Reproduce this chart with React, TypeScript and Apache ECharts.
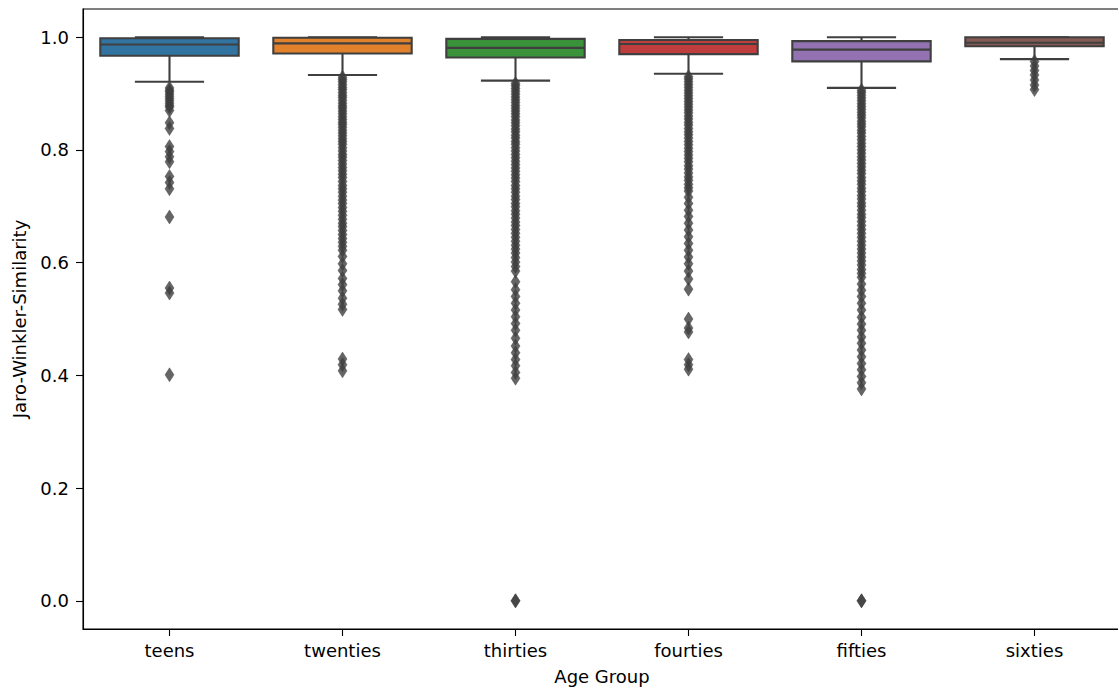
import React, { useEffect, useRef } from "react";
import * as echarts from "echarts";

// Age groups on the category axis
const categories = ["teens", "twenties", "thirties", "fourties", "fifties", "sixties"];

// Box statistics per age group
const whiskerLow = [0.921, 0.933, 0.923, 0.935, 0.910, 0.961];
const q1 = [0.967, 0.971, 0.964, 0.970, 0.957, 0.984];
const median = [0.987, 0.989, 0.981, 0.988, 0.978, 0.990];
const q3 = [0.998, 0.999, 0.997, 0.995, 0.993, 1.0];
const whiskerHigh = [1.0, 1.0, 1.0, 1.0, 1.0, 1.0];

// Fill colours of the boxes
const boxColors = ["#3274a1", "#e1812c", "#3a923a", "#c03d3e", "#9372b2", "#845b53"];

// Outlying similarity scores per age group
const teensOutliers = [
  0.910, 0.906, 0.903, 0.899, 0.895, 0.891, 0.887, 0.883, 0.879, 0.876,
  0.870, 0.848, 0.838, 0.806, 0.797, 0.788, 0.779, 0.753, 0.742, 0.731,
  0.681, 0.555, 0.546, 0.401,
];
const twentiesOutliers = [
  0.929, 0.925, 0.921, 0.916, 0.911, 0.907, 0.902, 0.897, 0.893, 0.888,
  0.883, 0.878, 0.874, 0.869, 0.864, 0.859, 0.854, 0.849, 0.845, 0.840,
  0.835, 0.830, 0.825, 0.820, 0.815, 0.810, 0.804, 0.798, 0.792, 0.787,
  0.781, 0.775, 0.769, 0.763, 0.757, 0.751, 0.744, 0.737, 0.731, 0.725,
  0.718, 0.711, 0.705, 0.698, 0.691, 0.684, 0.677, 0.670, 0.664, 0.657,
  0.650, 0.643, 0.636, 0.629, 0.622, 0.611, 0.598, 0.586, 0.572, 0.561,
  0.550, 0.537, 0.526, 0.517, 0.429, 0.419, 0.408,
];
const thirtiesOutliers = [
  0.918, 0.914, 0.909, 0.904, 0.899, 0.894, 0.889, 0.884, 0.879, 0.874,
  0.869, 0.864, 0.859, 0.853, 0.848, 0.843, 0.837, 0.832, 0.826, 0.821,
  0.815, 0.810, 0.804, 0.798, 0.792, 0.786, 0.780, 0.774, 0.768, 0.762,
  0.756, 0.750, 0.744, 0.737, 0.731, 0.725, 0.718, 0.712, 0.705, 0.699,
  0.692, 0.686, 0.679, 0.672, 0.666, 0.659, 0.652, 0.645, 0.638, 0.631,
  0.624, 0.617, 0.609, 0.601, 0.593, 0.585, 0.566, 0.552, 0.540, 0.528,
  0.516, 0.504, 0.492, 0.480, 0.466, 0.452, 0.440, 0.428, 0.417, 0.405,
  0.395, 0.0, 0.0,
];
const fourtiesOutliers = [
  0.930, 0.926, 0.921, 0.916, 0.911, 0.906, 0.901, 0.896, 0.891, 0.886,
  0.881, 0.876, 0.871, 0.866, 0.860, 0.855, 0.849, 0.844, 0.838, 0.832,
  0.827, 0.821, 0.815, 0.809, 0.803, 0.797, 0.791, 0.785, 0.779, 0.772,
  0.766, 0.759, 0.752, 0.746, 0.739, 0.733, 0.727, 0.716, 0.705, 0.693,
  0.682, 0.670, 0.658, 0.646, 0.634, 0.622, 0.610, 0.598, 0.585, 0.571,
  0.553, 0.500, 0.484, 0.477, 0.428, 0.419, 0.411,
];
const fiftiesOutliers = [
  0.906, 0.902, 0.897, 0.892, 0.887, 0.882, 0.877, 0.872, 0.867, 0.862,
  0.857, 0.851, 0.846, 0.841, 0.835, 0.830, 0.824, 0.818, 0.812, 0.806,
  0.800, 0.794, 0.788, 0.782, 0.776, 0.770, 0.764, 0.758, 0.751, 0.745,
  0.739, 0.732, 0.726, 0.719, 0.713, 0.706, 0.700, 0.693, 0.686, 0.680,
  0.673, 0.666, 0.659, 0.652, 0.645, 0.638, 0.631, 0.624, 0.617, 0.610,
  0.603, 0.596, 0.588, 0.581, 0.574, 0.562, 0.551, 0.540, 0.528, 0.516,
  0.503, 0.491, 0.480, 0.468, 0.457, 0.445, 0.433, 0.421, 0.410, 0.398,
  0.387, 0.376, 0.0, 0.0,
];
const sixtiesOutliers = [0.957, 0.949, 0.941, 0.933, 0.924, 0.915, 0.907];

// Y-axis tick positions
const yTicks = [0.0, 0.2, 0.4, 0.6, 0.8, 1.0];

const outlierGroups = [
  teensOutliers,
  twentiesOutliers,
  thirtiesOutliers,
  fourtiesOutliers,
  fiftiesOutliers,
  sixtiesOutliers,
];

const EDGE = "#3f3f3f";
const FONT = "DejaVu Sans";

export default function App() {
  const ref = useRef<HTMLDivElement>(null);

  useEffect(() => {
    if (!ref.current) return;
    const chart = echarts.init(ref.current, null, { renderer: "svg" });

    const boxData = categories.map((_, i) => [
      i,
      whiskerLow[i],
      q1[i],
      median[i],
      q3[i],
      whiskerHigh[i],
    ]);

    const flierData: number[][] = [];
    outlierGroups.forEach((group, i) => {
      group.forEach((v) => flierData.push([i, v]));
    });

    const option: any = {
      animation: false,
      backgroundColor: "#ffffff",
      grid: {
        left: 83,
        top: 9,
        width: 1038,
        height: 620,
        show: true,
        borderColor: "#000000",
        borderWidth: 1.1,
        backgroundColor: "transparent",
        containLabel: false,
        outerBoundsMode: "none",
      },
      xAxis: {
        type: "category",
        data: categories,
        boundaryGap: true,
        name: "Age Group",
        nameLocation: "middle",
        nameGap: 38,
        nameTextStyle: { fontFamily: FONT, fontSize: 18, color: "#000" },
        axisLine: { show: true, onZero: false, lineStyle: { color: "#000", width: 1.1 } },
        axisTick: { show: true, alignWithLabel: true, length: 7, lineStyle: { color: "#000", width: 1.1 } },
        axisLabel: { fontFamily: FONT, fontSize: 18, color: "#000", margin: 12 },
        splitLine: { show: false },
      },
      yAxis: {
        type: "value",
        min: -0.05,
        max: 1.05,
        name: "Jaro-Winkler-Similarity",
        nameLocation: "middle",
        nameGap: 55,
        nameRotate: 90,
        nameTextStyle: { fontFamily: FONT, fontSize: 18, color: "#000" },
        axisLine: { show: true, onZero: false, lineStyle: { color: "#000", width: 1.1 } },
        axisTick: { show: true, length: 7, customValues: yTicks, lineStyle: { color: "#000", width: 1.1 } },
        axisLabel: {
          fontFamily: FONT,
          fontSize: 18,
          color: "#000",
          margin: 14,
          customValues: yTicks,
          formatter: (v: number) => v.toFixed(1),
        },
        splitLine: { show: false },
      },
      series: [
        {
          type: "custom",
          data: boxData,
          clip: false,
          z: 2,
          renderItem: (params: any, api: any) => {
            const idx = api.value(0);
            const pLow = api.coord([idx, api.value(1)]);
            const pQ1 = api.coord([idx, api.value(2)]);
            const pMed = api.coord([idx, api.value(3)]);
            const pQ3 = api.coord([idx, api.value(4)]);
            const pHigh = api.coord([idx, api.value(5)]);
            const band = api.size([1, 0])[0];
            const boxW = band * 0.8;
            const capW = boxW / 2;
            const cx = pLow[0];
            const lineStyle = { stroke: EDGE, lineWidth: 2.1 };
            return {
              type: "group",
              children: [
                { type: "line", shape: { x1: cx, y1: pQ1[1], x2: cx, y2: pLow[1] }, style: lineStyle },
                { type: "line", shape: { x1: cx, y1: pQ3[1], x2: cx, y2: pHigh[1] }, style: lineStyle },
                { type: "line", shape: { x1: cx - capW / 2, y1: pLow[1], x2: cx + capW / 2, y2: pLow[1] }, style: lineStyle },
                { type: "line", shape: { x1: cx - capW / 2, y1: pHigh[1], x2: cx + capW / 2, y2: pHigh[1] }, style: lineStyle },
                {
                  type: "rect",
                  shape: { x: cx - boxW / 2, y: pQ3[1], width: boxW, height: pQ1[1] - pQ3[1] },
                  style: { fill: boxColors[params.dataIndex], stroke: EDGE, lineWidth: 2.1 },
                },
                { type: "line", shape: { x1: cx - boxW / 2, y1: pMed[1], x2: cx + boxW / 2, y2: pMed[1] }, style: lineStyle },
              ],
            };
          },
        },
        {
          type: "scatter",
          data: flierData,
          symbol: "diamond",
          symbolSize: [9, 14],
          z: 3,
          itemStyle: { color: EDGE, borderColor: EDGE, borderWidth: 0.5 },
          silent: true,
        },
      ],
    };

    chart.setOption(option);
    return () => chart.dispose();
  }, []);

  return (
    <div
      ref={ref}
      style={{ position: "absolute", left: 0, top: 0, width: 1118, height: 688 }}
    />
  );
}
